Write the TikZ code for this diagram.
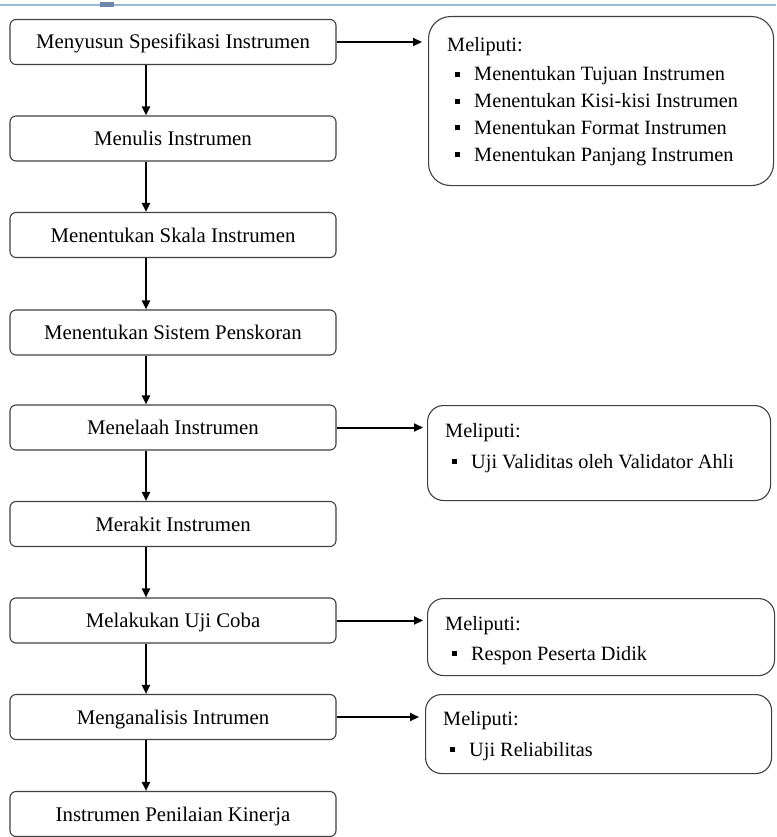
\documentclass[tikz,border=0pt]{standalone}
\usepackage{fontspec}
\setmainfont{Liberation Serif}
\usetikzlibrary{arrows.meta}
\tikzset{
  stepbox/.style={draw=black!75, line width=1.1pt, rounded corners=6pt, fill=white,
    minimum width=326pt, minimum height=45pt, inner sep=0pt,
    font=\fontsize{20.8}{24}\selectfont, text height=15pt, text depth=1pt},
  infobox/.style={draw=black!75, line width=1.1pt, rounded corners=16pt, fill=white,
    anchor=north west, inner sep=0pt},
  infotext/.style={anchor=base west, inner sep=0pt, font=\fontsize{20.3}{24}\selectfont},
  arr/.style={line width=2pt, -{Triangle[length=9pt,width=8pt]}},
}
\newcommand{\sqbul}{\makebox[19pt][l]{\rule[4pt]{5pt}{5pt}}}
\begin{document}
\begin{tikzpicture}[x=1pt,y=-1pt]
\useasboundingbox (0,0) rectangle (776,837);
% top page line
\draw[color={rgb,255:red,155;green,182;blue,215}, line width=1.5pt] (0,5) -- (776,5);
\fill[color={rgb,255:red,110;green,135;blue,170}] (100,2.5) rectangle (114,7);

% left chain
\node[stepbox] (b1) at (173,42) {Menyusun Spesifikasi Instrumen};
\node[stepbox] (b2) at (173,138.5) {Menulis Instrumen};
\node[stepbox] (b3) at (173,235) {Menentukan Skala Instrumen};
\node[stepbox] (b4) at (173,332.5) {Menentukan Sistem Penskoran};
\node[stepbox] (b5) at (173,427.5) {Menelaah Instrumen};
\node[stepbox] (b6) at (173,524) {Merakit Instrumen};
\node[stepbox] (b7) at (173,620.5) {Melakukan Uji Coba};
\node[stepbox] (b8) at (173,717) {Menganalisis Intrumen};
\node[stepbox] (b9) at (173,814) {Instrumen Penilaian Kinerja};

\coordinate (ax) at (146,0);
\foreach \a/\b in {b1/b2,b2/b3,b3/b4,b4/b5,b5/b6,b6/b7,b7/b8,b8/b9}{
  \draw[arr] (\a.south -| ax) -- (\b.north -| ax);
}

% right boxes
\node[infobox, minimum width=345pt, minimum height=169pt, rounded corners=22pt] (r1) at (428,16) {};
\node[infobox, minimum width=343pt, minimum height=95pt] (r2) at (427,405) {};
\node[infobox, minimum width=347pt, minimum height=77pt] (r3) at (427,598) {};
\node[infobox, minimum width=346pt, minimum height=79pt] (r4) at (425,694) {};

% texts in right boxes
\node[infotext] (r1h) at (447,52) {Meliputi:};
\node[infotext] (r1a) at (455,81) {\sqbul Menentukan Tujuan Instrumen};
\node[infotext] (r1b) at (455,108) {\sqbul Menentukan Kisi-kisi Instrumen};
\node[infotext] (r1c) at (455,134.5) {\sqbul Menentukan Format Instrumen};
\node[infotext] (r1d) at (455,161) {\sqbul Menentukan Panjang Instrumen};

\node[infotext] (r2h) at (445,437) {Meliputi:};
\node[infotext] (r2a) at (452,468) {\sqbul Uji Validitas oleh Validator Ahli};

\node[infotext] (r3h) at (445,630) {Meliputi:};
\node[infotext] (r3a) at (452,660) {\sqbul Respon Peserta Didik};

\node[infotext] (r4h) at (443,725) {Meliputi:};
\node[infotext] (r4a) at (450,756) {\sqbul Uji Reliabilitas};

% horizontal connectors
\draw[arr] (b1.east) -- ([xshift=-6pt]b1.east -| r1.west);
\draw[arr] (b5.east) -- ([xshift=-4pt]b5.east -| r2.west);
\draw[arr] (b7.east) -- ([xshift=-4pt]b7.east -| r3.west);
\draw[arr] (b8.east) -- ([xshift=-6pt]b8.east -| r4.west);
\end{tikzpicture}
\end{document}
